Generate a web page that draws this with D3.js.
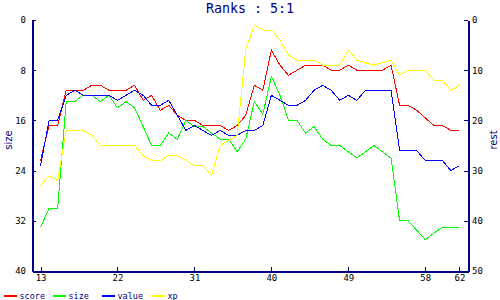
<!DOCTYPE html>
<html><head><meta charset="utf-8">
<script src="https://cdn.jsdelivr.net/npm/d3@7"></script>
<style>
html,body{margin:0;padding:0;background:#fff;}
svg{display:block;}
</style></head>
<body>
<svg id="c" width="500" height="300"></svg>
<script>
const title = "Ranks : 5:1";
const leftLabel = "size";
const rightLabel = "rest";
const days = d3.range(13, 63);
const xTicks = [13, 22, 31, 40, 49, 58, 62];
const leftTicks = [0, 8, 16, 24, 32, 40];
const rightTicks = [0, 10, 20, 30, 40, 50];

// size -> left axis; score, value, xp -> right axis
const score = [28,21,21,14,14,14,13,13,14,14,14,13,16,15,18,17,19,20,20,21,21,21,22,21,19,13,14,6,9,11,10,9,9,9,10,10,9,10,10,10,10,9,17,17,18,19.5,21,21,22,22];
const size  = [33,30,30,13,13,12,12,13,12,14,13,14,17,20,20,18,19,16,17,17,18,19,19,21,19,13,15,9,12,16,16,18,17,19,20,20,21,22,21,20,21,22,32,32,33.5,35,34,33,33,33];
const value = [29,20,20,15,14,15,15,15,15,16,15,14,15,17,17,16,19,22,21,22,23,22,23,23,22,22,21,15,16,17,17,16,14,13,14,16,15,16,14,14,14,14,26,26,26,28,28,28,30,29];
const xp    = [33,31,32,22,22,22,23,25,25,25,25,25,27,28,28,27,27,28,29,29,31,25,24,23,6,1,2,2,4,7,8,8,8,9,9,9,6,8,8.5,9,8.5,8,11,10,10,10,12,12,14,13];

const seriesNames = ["score", "size", "value", "xp"];
const seriesColors = ["#ff0000", "#00ff00", "#0000ff", "#ffff00"];
const seriesData = [score, size, value, xp];
const seriesAxis = ["right", "left", "right", "right"];

const navy = "#000080";
const svg = d3.select("#c");

const x = d3.scaleLinear().domain([12, 63]).range([32, 468]);
const yL = d3.scaleLinear().domain([0, 40]).range([20, 271]);
const yR = d3.scaleLinear().domain([0, 50]).range([20, 271]);

// title
svg.append("text").attr("x", 250).attr("y", 13).attr("text-anchor", "middle")
  .attr("font-family", "DejaVu Sans Mono").attr("font-size", 13.3).attr("fill", navy).text(title);

// lines
seriesData.forEach((arr, i) => {
  const ys = seriesAxis[i] === "left" ? yL : yR;
  const line = d3.line().x((d, j) => x(days[j])).y(d => ys(d));
  svg.append("path").datum(arr).attr("d", line).attr("fill", "none")
    .attr("stroke", seriesColors[i]).attr("stroke-width", 1)
    .attr("shape-rendering", "crispEdges");
});

function styleAxis(g) {
  g.select(".domain").attr("stroke", navy).attr("stroke-width", 2).attr("shape-rendering", "crispEdges");
  g.selectAll(".tick line").attr("stroke", navy).attr("stroke-width", 1).attr("shape-rendering", "crispEdges");
  g.selectAll(".tick text").attr("fill", "#000").attr("font-family", "DejaVu Sans Mono").attr("font-size", 9);
}

svg.append("g").attr("transform", "translate(32,0)")
  .call(d3.axisLeft(yL).tickValues(leftTicks).tickSizeInner(-4).tickSizeOuter(0).tickPadding(6))
  .call(styleAxis);
svg.append("g").attr("transform", "translate(468,0)")
  .call(d3.axisRight(yR).tickValues(rightTicks).tickSizeInner(-4).tickSizeOuter(0).tickPadding(4))
  .call(styleAxis);
svg.append("g").attr("transform", "translate(0,271)")
  .call(d3.axisBottom(x).tickValues(xTicks).tickSizeInner(-4).tickSizeOuter(0).tickPadding(4))
  .call(styleAxis);

// axis labels
svg.append("text").attr("transform", "translate(12,140) rotate(-90)").attr("text-anchor", "middle")
  .attr("font-family", "DejaVu Sans").attr("font-size", 10).attr("fill", navy).text(leftLabel);
svg.append("text").attr("transform", "translate(497,140) rotate(-90)").attr("text-anchor", "middle")
  .attr("font-family", "DejaVu Sans").attr("font-size", 10).attr("fill", navy).text(rightLabel);

// legend
const legendX = [4, 53, 102, 152];
seriesNames.forEach((n, i) => {
  svg.append("rect").attr("x", legendX[i]).attr("y", 295).attr("width", 13).attr("height", 2)
    .attr("fill", seriesColors[i]);
  svg.append("text").attr("x", legendX[i] + 15.5).attr("y", 299).attr("font-family", "DejaVu Sans Mono")
    .attr("font-size", 8.5).attr("fill", navy).text(n);
});
</script>
</body></html>
